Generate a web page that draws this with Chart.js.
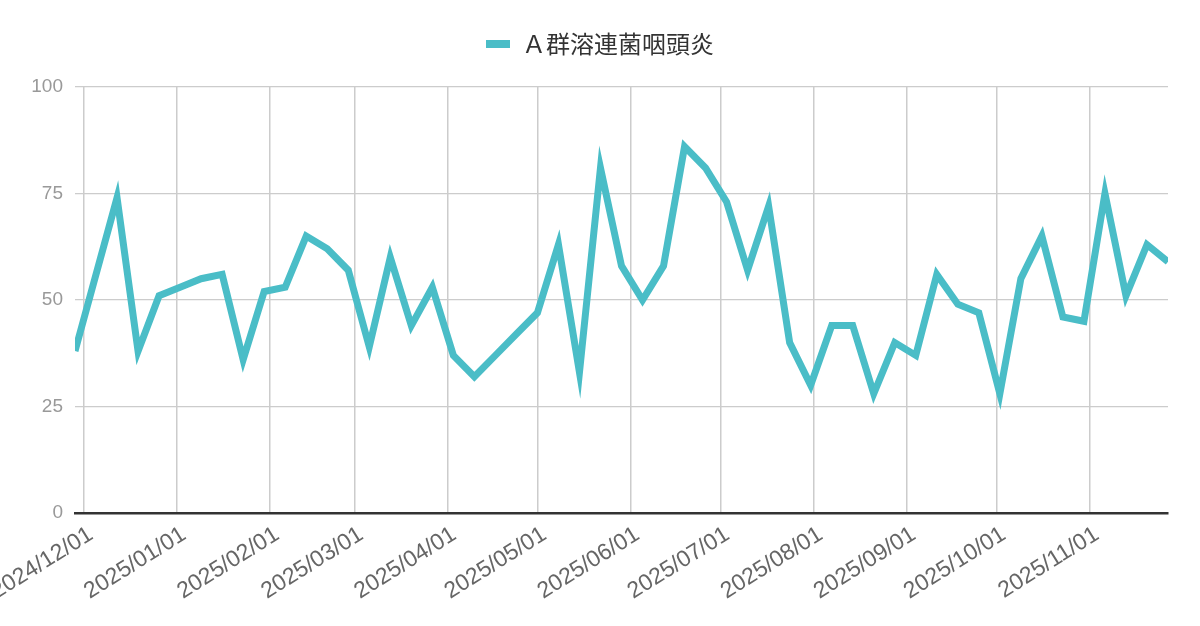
<!DOCTYPE html>
<html>
<head>
<meta charset="utf-8">
<script src="https://cdn.jsdelivr.net/npm/chart.js@4.4.1/dist/chart.umd.min.js"></script>
<style>
  html, body { margin: 0; padding: 0; background: #fff; }
  #wrap { width: 1200px; height: 626px; }
</style>
</head>
<body>
<div id="wrap"><canvas id="chart"></canvas></div>
<script>
// Dados semanais
const seriesLabel = 'Ａ群溶連菌咽頭炎';
const weekDates = [
  '2024-11-28', '2024-12-05', '2024-12-12', '2024-12-19', '2024-12-26',
  '2025-01-02', '2025-01-09', '2025-01-16', '2025-01-23', '2025-01-30',
  '2025-02-06', '2025-02-13', '2025-02-20', '2025-02-27',
  '2025-03-06', '2025-03-13', '2025-03-20', '2025-03-27',
  '2025-04-03', '2025-04-10', '2025-04-17', '2025-04-24',
  '2025-05-01', '2025-05-08', '2025-05-15', '2025-05-22', '2025-05-29',
  '2025-06-05', '2025-06-12', '2025-06-19', '2025-06-26',
  '2025-07-03', '2025-07-10', '2025-07-17', '2025-07-24', '2025-07-31',
  '2025-08-07', '2025-08-14', '2025-08-21', '2025-08-28',
  '2025-09-04', '2025-09-11', '2025-09-18', '2025-09-25',
  '2025-10-02', '2025-10-09', '2025-10-16', '2025-10-23', '2025-10-30',
  '2025-11-06', '2025-11-13', '2025-11-20', '2025-11-27'
];
const weekValues = [
  38, 56, 74, 38, 51,
  53, 55, 56, 36, 52,
  53, 65, 62, 57,
  39, 60, 44, 53,
  37, 32, 37, 42,
  47, 63, 33, 81, 58,
  50, 58, 86, 81,
  73, 57, 72, 40, 30,
  44, 44, 28, 40,
  37, 56, 49, 47,
  28, 55, 65, 46, 45,
  75, 51, 63, 59
];
const monthTickLabels = [
  '2024/12/01', '2025/01/01', '2025/02/01', '2025/03/01', '2025/04/01', '2025/05/01',
  '2025/06/01', '2025/07/01', '2025/08/01', '2025/09/01', '2025/10/01', '2025/11/01'
];
const yTicks = [0, 25, 50, 75, 100];

// Converte data em número de dias (sem adaptador de datas)
function toDay(str) {
  const p = str.split(/[-\/]/).map(Number);
  return Date.UTC(p[0], p[1] - 1, p[2]) / 86400000;
}

const points = weekDates.map((d, i) => ({ x: toDay(d), y: weekValues[i] }));
const monthTickValues = monthTickLabels.map(toDay);

const lineColor = 'rgb(74, 189, 199)';
const gridColor = '#cccccc';

// Espaço extra abaixo da legenda
const legendSpacer = {
  id: 'legendSpacer',
  beforeInit(chart) {
    const origFit = chart.legend.fit;
    chart.legend.fit = function () {
      origFit.call(this);
      this.height = 65;
    };
  }
};

const ctx = document.getElementById('chart').getContext('2d');
new Chart(ctx, {
  type: 'line',
  data: {
    datasets: [{
      label: seriesLabel,
      data: points,
      borderColor: lineColor,
      backgroundColor: lineColor,
      borderWidth: 7,
      pointRadius: 0,
      tension: 0,
      fill: false
    }]
  },
  options: {
    responsive: true,
    maintainAspectRatio: false,
    animation: false,
    layout: { padding: { left: 0, right: 0, top: 22, bottom: 0 } },
    plugins: {
      tooltip: { enabled: false },
      legend: {
        position: 'top',
        labels: {
          boxWidth: 24,
          boxHeight: 8,
          padding: 10,
          color: '#333',
          font: { family: '"Noto Sans CJK JP", "Liberation Sans", sans-serif', size: 24 },
          generateLabels(chart) {
            const items = Chart.defaults.plugins.legend.labels.generateLabels(chart);
            items.forEach(it => { it.lineWidth = 0; });
            return items;
          }
        }
      }
    },
    scales: {
      x: {
        type: 'linear',
        min: toDay(weekDates[0]),
        max: toDay(weekDates[weekDates.length - 1]),
        afterBuildTicks(scale) {
          scale.ticks = monthTickValues.map(v => ({ value: v }));
        },
        afterFit(scale) {
          scale.height = 113;
          scale.paddingLeft = 0;
          scale.paddingRight = 32;
        },
        grid: { color: gridColor, lineWidth: 1.5, drawTicks: false },
        border: { display: true, color: '#333', width: 2.5 },
        ticks: {
          autoSkip: false,
          minRotation: 32,
          maxRotation: 32,
          padding: 8,
          labelOffset: 7,
          color: '#666',
          font: { family: '"Liberation Sans", Arial, sans-serif', size: 23 },
          callback(value, index) { return monthTickLabels[index]; }
        }
      },
      y: {
        min: 0,
        max: 100,
        afterBuildTicks(scale) {
          scale.ticks = yTicks.map(v => ({ value: v }));
        },
        afterFit(scale) { scale.width = 75; },
        grid: { color: gridColor, lineWidth: 1.2, drawTicks: false },
        border: { display: false },
        ticks: {
          padding: 12,
          color: '#999',
          font: { family: '"Liberation Sans", Arial, sans-serif', size: 19 }
        }
      }
    }
  },
  plugins: [legendSpacer]
});
</script>
</body>
</html>
